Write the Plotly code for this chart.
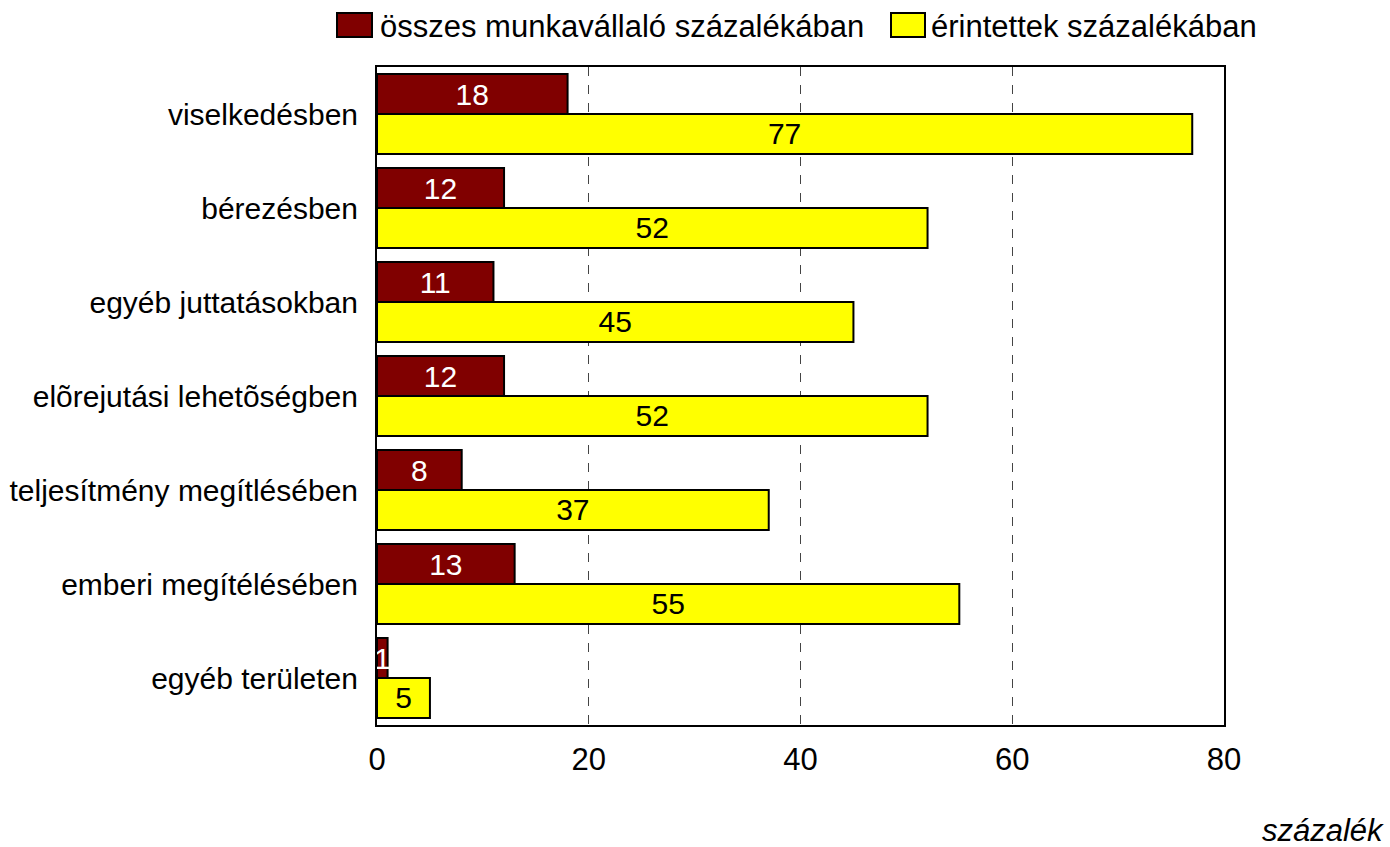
import plotly.graph_objects as go

categories = ["viselkedésben", "bérezésben", "egyéb juttatásokban", "elõrejutási lehetõségben",
              "teljesítmény megítlésében", "emberi megítélésében", "egyéb területen"]
osszes = [18, 12, 11, 12, 8, 13, 1]
erintettek = [77, 52, 45, 52, 37, 55, 5]
series_names = ["összes munkavállaló százalékában", "érintettek százalékában"]
series_colors = ["#800000", "#FFFF00"]
x_ticks = [0, 20, 40, 60, 80]

FONT = "Liberation Sans Narrow, Arial Narrow, Liberation Sans, Arial"
W, H = 1390, 847
L, R, T, B = 377, 166, 67, 122
PW, PH = W - L - R, H - T - B


def px(xp):
    return (xp - L) / PW


def py(yp):
    return (H - B - yp) / PH


fig = go.Figure()
fig.add_trace(go.Bar(
    y=categories, x=osszes, orientation="h", name=series_names[0],
    marker=dict(color=series_colors[0], line=dict(color="black", width=2)),
    text=[str(v) for v in osszes], textposition="inside", insidetextanchor="middle",
    constraintext="none",
    textfont=dict(color="white", size=30, family=FONT),
    showlegend=False,
))
fig.add_trace(go.Bar(
    y=categories, x=erintettek, orientation="h", name=series_names[1],
    marker=dict(color=series_colors[1], line=dict(color="black", width=2)),
    text=[str(v) for v in erintettek], textposition="inside", insidetextanchor="middle",
    constraintext="none",
    textfont=dict(color="black", size=30, family=FONT),
    showlegend=False,
))

# manual legend (boxes + labels)
legend_boxes = [(337, 372), (891, 925)]
legend_text_x = [378, 929]
for (x0, x1), tx, name, col in zip(legend_boxes, legend_text_x, series_names, series_colors):
    fig.add_shape(type="rect", xref="paper", yref="paper",
                  x0=px(x0), x1=px(x1), y0=py(37), y1=py(13),
                  fillcolor=col, line=dict(color="black", width=2))
    fig.add_annotation(text=name, xref="paper", yref="paper", x=px(tx), y=py(26),
                       xanchor="left", yanchor="middle", showarrow=False,
                       font=dict(size=31, family=FONT))

fig.add_annotation(text="<i>százalék</i>", xref="paper", yref="paper",
                   x=px(1386), y=py(830), xanchor="right", yanchor="middle",
                   showarrow=False, font=dict(size=31, family=FONT))

fig.update_layout(
    width=W, height=H,
    barmode="group", bargap=0.15, bargroupgap=0,
    plot_bgcolor="white", paper_bgcolor="white",
    font=dict(family=FONT, size=30, color="black"),
    margin=dict(l=L, r=R, t=T, b=B, autoexpand=False),
    showlegend=False,
    xaxis=dict(range=[0, 80], tickvals=x_ticks, showgrid=True, gridcolor="#444",
               griddash="dash", gridwidth=1, zeroline=False, automargin=False,
               showline=True, linecolor="black", linewidth=2, mirror=True,
               ticks="", ticklabelstandoff=6, tickfont=dict(size=31)),
    yaxis=dict(autorange="reversed", showline=True, linecolor="black", linewidth=2,
               mirror=True, ticks="", ticklabelstandoff=11, tickfont=dict(size=30),
               automargin=False),
)

fig.write_html("out.html", post_script="document.body.style.margin='0';",
               config={"displayModeBar": False})
